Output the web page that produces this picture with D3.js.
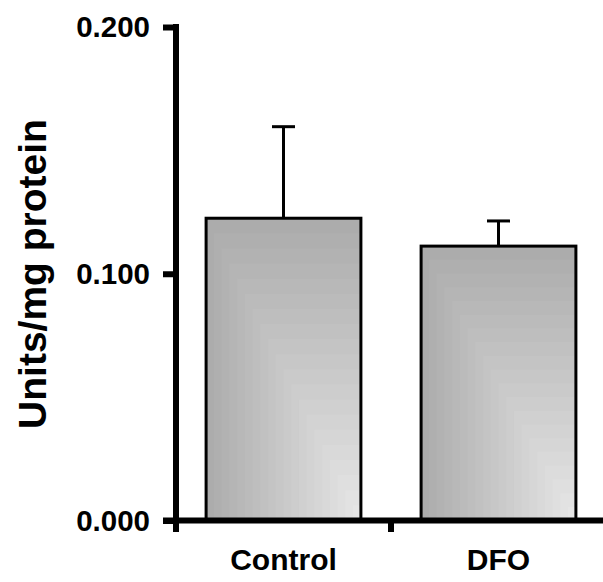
<!DOCTYPE html>
<html>
<head>
<meta charset="utf-8">
<script src="https://cdn.jsdelivr.net/npm/d3@7"></script>
<style>
  html, body { margin: 0; padding: 0; background: #fff; }
  svg { display: block; }
  text { font-family: "Liberation Sans", Arial, Helvetica, sans-serif; font-weight: bold; fill: #000; }
</style>
</head>
<body>
<svg id="chart" width="603" height="582"></svg>
<script>
const categories = ["Control", "DFO"];
const values = [0.1225, 0.1112];
const errors = [0.0371, 0.0102];
const yTicks = [0.000, 0.100, 0.200];
const yTitle = "Units/mg protein";

const svg = d3.select("#chart");

const y = d3.scaleLinear().domain([0, 0.2]).range([520.5, 27]);
const x = d3.scaleBand().domain(categories).range([176, 606]).paddingInner(0.28).paddingOuter(0.14);

// gradient bands (corner shading: dark at left/top, light toward bottom-right)
const N = 20;
const shade = d3.interpolateRgb("#acacac", "#e5e5e5");

categories.forEach((c, i) => {
  const x0 = x(c), w = x.bandwidth();
  const y0 = y(values[i]), h = y(0) - y0;
  const g = svg.append("g");
  d3.range(N).forEach(k => {
    g.append("rect")
      .attr("x", x0 + w * k / N)
      .attr("y", y0 + h * k / N)
      .attr("width", w * (N - k) / N)
      .attr("height", h * (N - k) / N)
      .attr("fill", shade(k / (N - 1)));
  });
  g.append("rect")
    .attr("x", x0).attr("y", y0)
    .attr("width", w).attr("height", h)
    .attr("fill", "none").attr("stroke", "#000").attr("stroke-width", 3);

  // error bar (upper only)
  const cx = x0 + w / 2;
  const yt = y(values[i] + errors[i]);
  g.append("line").attr("x1", cx).attr("x2", cx).attr("y1", y0).attr("y2", yt)
    .attr("stroke", "#000").attr("stroke-width", 3);
  g.append("line").attr("x1", cx - 11.5).attr("x2", cx + 11.5).attr("y1", yt).attr("y2", yt)
    .attr("stroke", "#000").attr("stroke-width", 3);
});

// Y axis
const yAxis = d3.axisLeft(y).tickValues(yTicks).tickFormat(d3.format(".3f")).tickSize(13).tickPadding(13);
const ya = svg.append("g").attr("transform", "translate(176,0)").call(yAxis);
ya.select(".domain").remove();
ya.selectAll(".tick line").attr("stroke", "#000").attr("stroke-width", 6);
ya.selectAll(".tick text").style("font-size", "29.5px").attr("dy", "0.33em");
svg.append("line").attr("x1", 176).attr("x2", 176).attr("y1", y(0.2) - 3).attr("y2", 532)
  .attr("stroke", "#000").attr("stroke-width", 6);

// X axis
svg.append("line").attr("x1", 163).attr("x2", 603).attr("y1", y(0)).attr("y2", y(0))
  .attr("stroke", "#000").attr("stroke-width", 6);
const step = x.step();
svg.append("line").attr("x1", 176 + step).attr("x2", 176 + step).attr("y1", y(0)).attr("y2", 532)
  .attr("stroke", "#000").attr("stroke-width", 6);

svg.selectAll(".xlab").data(categories).enter().append("text")
  .attr("class", "xlab")
  .attr("x", d => x(d) + x.bandwidth() / 2)
  .attr("y", 570)
  .attr("text-anchor", "middle")
  .style("font-size", "30px")
  .text(d => d);

svg.append("text")
  .attr("transform", "translate(46,274) rotate(-90)")
  .attr("text-anchor", "middle")
  .style("font-size", "39px")
  .text(yTitle);
</script>
</body>
</html>
